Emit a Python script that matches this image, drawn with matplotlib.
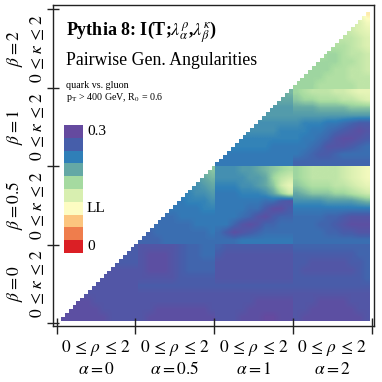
import numpy as np
import matplotlib
matplotlib.use("Agg")
import matplotlib.pyplot as plt
from matplotlib.colors import LinearSegmentedColormap
from matplotlib.transforms import blended_transform_factory
from matplotlib.path import Path
from matplotlib.patches import PathPatch

plt.rcParams['font.family'] = ['Liberation Serif', 'DejaVu Serif']
plt.rcParams['mathtext.fontset'] = 'stix'

# ---------------- data ----------------
alpha_labels = ["0", "0.5", "1", "2"]
beta_labels = ["0", "0.5", "1", "2"]

level_colors = ["#db1f25", "#f07f4d", "#fdc780", "#fdfdc3", "#d8efb0",
                "#a6dba0", "#64a8a5", "#2f80b9", "#465fab", "#654a9f"]
level_values = [0.0, 0.0333, 0.0667, 0.1, 0.1333, 0.1667, 0.2, 0.2333, 0.2667, 0.3]
cbar_text = {0: "0", 3: "LL", 9: "0.3"}

# Mutual information (hundredths), rows: kappa 2 (top) -> 0 (bottom), cols: rho 0 -> 2
blk_a0_b0 = ["27 27 27 27 27 27 27 27 27 27",
             "27 27 27 27 27 27 27 27 27 27",
             "28 28 28 28 28 28 27 27 27 27",
             "28 28 28 28 28 28 28 28 28 28",
             "28 28 28 28 28 28 28 28 28 28",
             "28 28 28 28 28 28 28 28 28 28",
             "28 28 28 28 28 28 28 28 28 28",
             "29 29 29 29 28 28 28 28 28 28",
             "29 29 29 29 29 28 28 28 28 28",
             "29 29 29 29 29 29 28 28 28 28"]
blk_a05_b0 = ["28 28 28 28 28 27 26 26 25 25",
              "28 29 29 29 28 27 26 26 25 25",
              "28 29 29 29 28 27 26 26 26 26",
              "28 29 29 29 28 27 26 26 26 26",
              "28 28 28 28 28 27 27 27 27 27",
              "27 27 27 27 27 27 27 27 27 27",
              "28 28 28 28 28 28 28 28 28 28",
              "28 28 28 28 28 28 28 28 28 28",
              "28 28 29 29 29 29 29 29 29 28",
              "28 29 29 29 29 29 29 29 29 29"]
blk_a1_b0 = ["26 27 27 27 27 27 27 27 27 27",
             "27 28 28 28 28 28 28 28 28 28",
             "28 28 28 28 28 28 28 28 28 28",
             "28 28 28 28 28 28 28 28 28 28",
             "28 28 28 28 28 28 28 28 28 28",
             "27 27 27 27 27 27 27 27 27 27",
             "28 28 28 28 28 28 28 28 28 28",
             "28 28 28 28 28 29 29 29 29 29",
             "28 28 28 28 29 29 29 29 29 29",
             "28 28 28 29 29 29 30 30 29 29"]
blk_a2_b0 = ["26 26 26 26 26 26 26 26 26 26",
             "27 27 27 27 27 27 27 27 26 26",
             "27 27 28 28 28 28 28 27 27 26",
             "27 28 28 28 28 28 28 28 27 26",
             "27 27 27 27 27 27 27 27 27 26",
             "27 27 27 27 27 27 27 27 27 27",
             "28 28 28 28 28 28 28 28 28 28",
             "28 28 28 29 29 29 29 28 28 28",
             "28 28 29 29 29 29 29 29 28 28",
             "28 29 29 29 29 29 29 29 29 28"]
blk_a05_b05 = ["24 24 24 23 23 22 21 20 19 18",
               "24 24 24 23 23 22 22 21 20 19",
               "24 24 24 24 23 23 22 22 21 20",
               "24 24 24 24 24 23 23 22 22 21",
               "25 25 24 24 24 24 23 23 23 22",
               "25 25 25 24 24 24 24 24 23 23",
               "25 25 25 25 25 24 24 24 24 24",
               "25 25 25 25 25 25 25 24 24 24",
               "26 26 25 25 25 25 25 25 25 24",
               "26 26 26 25 25 25 25 25 25 25"]
blk_a1_b05 = ["22 22 22 21 21 20 19 18 17 16",
              "22 22 22 22 21 21 20 17 15 14",
              "23 23 23 22 22 21 20 18 14 12",
              "24 24 24 23 23 23 22 20 17 14",
              "24 24 24 24 24 24 25 25 27 28",
              "24 24 24 24 25 25 27 29 29 27",
              "24 24 24 25 26 28 29 27 26 26",
              "24 24 26 28 29 28 26 26 25 25",
              "25 27 29 28 27 26 25 25 25 25",
              "25 25 25 24 24 24 24 24 24 24"]
blk_a2_b05 = ["17 16 15 15 15 15 14 13 12 11",
              "17 16 15 15 15 15 14 13 12 11",
              "18 17 16 16 16 15 15 14 13 12",
              "20 19 18 18 18 17 17 16 15 14",
              "22 22 22 22 21 21 21 21 20 19",
              "24 24 24 24 24 24 24 24 24 24",
              "25 25 25 25 26 26 27 28 28 28",
              "25 25 25 26 26 27 28 29 29 29",
              "25 25 25 25 26 26 27 27 28 28",
              "25 25 25 25 25 25 25 25 25 25"]
blk_a1_b1 = ["20 20 20 20 20 20 20 20 20 19",
             "20 20 20 20 20 20 20 20 20 20",
             "21 21 21 21 21 21 21 21 21 21",
             "21 21 21 21 21 21 21 21 21 21",
             "22 22 22 22 22 22 22 22 22 22",
             "22 22 22 22 22 22 22 22 23 23",
             "23 23 23 23 23 23 23 23 23 23",
             "23 23 23 23 23 23 23 24 24 24",
             "24 24 24 24 24 24 24 24 24 24",
             "24 24 24 24 24 24 24 24 24 24"]
blk_a2_b1 = ["17 16 15 15 15 14 14 13 12 12",
             "18 17 17 16 16 16 15 15 14 13",
             "20 20 20 19 19 19 19 18 18 18",
             "21 21 21 21 21 21 21 21 21 21",
             "22 23 23 23 24 24 25 26 27 27",
             "23 23 24 24 25 26 27 28 29 28",
             "23 24 24 25 26 28 29 29 28 27",
             "24 24 25 26 28 28 28 27 26 25",
             "24 25 26 27 27 26 25 25 25 25",
             "26 26 26 26 26 26 26 26 26 26"]
blk_a2_b2 = ["15 15 15 15 15 15 14 13 12 9",
             "15 15 15 15 15 15 14 14 13 11",
             "15 15 15 15 15 15 15 14 13 12",
             "16 16 16 16 15 15 15 15 14 13",
             "16 16 16 16 16 16 16 15 14 13",
             "16 16 16 16 17 17 16 15 15 14",
             "17 17 17 17 17 17 16 16 15 14",
             "17 17 17 17 17 16 16 15 15 14",
             "17 17 17 17 16 16 16 15 15 15",
             "17 17 17 16 16 16 16 16 15 15"]

# (alpha index, beta index) -> block
blocks = {(0, 0): blk_a0_b0, (1, 0): blk_a05_b0, (2, 0): blk_a1_b0, (3, 0): blk_a2_b0,
          (1, 1): blk_a05_b05, (2, 1): blk_a1_b05, (3, 1): blk_a2_b05,
          (2, 2): blk_a1_b1, (3, 2): blk_a2_b1,
          (3, 3): blk_a2_b2}

# ---------------- figure ----------------
W = 382.0
fig = plt.figure(figsize=(3.82, 3.82), dpi=100)
ax = fig.add_axes([52.5 / W, (W - 325.5) / W, (374.5 - 52.5) / W, (325.5 - 4.5) / W])

cmap = LinearSegmentedColormap.from_list("mi", list(zip(np.array(level_values) / 0.3, level_colors)))

# heatmap area (data coords) and staircase clip (cells with row <= column on an 80x80 grid)
x0, x1, y0, y1 = 0.055, 3.978, 0.033, 3.962
nfine = 80
dx = (x1 - x0) / nfine
dy = (y1 - y0) / nfine
verts = [(x0, y0), (x1, y0), (x1, y1)]
for i in range(nfine - 1, -1, -1):
    verts.append((x0 + i * dx, y0 + (i + 1) * dy))
    verts.append((x0 + i * dx, y0 + i * dy))
verts.append((x0, y0))
clip = PathPatch(Path(verts, closed=True), transform=ax.transData, facecolor='none', edgecolor='none')
ax.add_patch(clip)

bw = (x1 - x0) / 4
bh = (y1 - y0) / 4
for (ai, bi), rows in blocks.items():
    arr = np.array([[float(v) for v in r.split()] for r in rows]) / 100.0
    im = ax.imshow(arr, origin='upper', cmap=cmap, vmin=0, vmax=0.3,
                   extent=(x0 + ai * bw, x0 + (ai + 1) * bw, y0 + bi * bh, y0 + (bi + 1) * bh),
                   interpolation='bilinear', aspect='auto')
    im.set_clip_path(clip)

xpx_per = 78.75
ypx_per = 78.575
ax.set_xlim((52.5 - 56.7) / xpx_per, 4 + (374.5 - 371.7) / xpx_per)
ax.set_ylim(-(325.5 - 323.3) / ypx_per, 4 + (9 - 4.5) / ypx_per)
ax.set_xticks(range(5))
ax.set_yticks(range(5))
ax.set_xticklabels([])
ax.set_yticklabels([])
ax.tick_params(axis='x', direction='inout', length=11, width=1.0, color='#222222')
ax.tick_params(axis='y', direction='inout', length=9, width=1.0, color='#222222')
for s in ax.spines.values():
    s.set_linewidth(1.0)
    s.set_color('#222222')

# tick labels
tx = blended_transform_factory(ax.transData, fig.transFigure)
for i, a in enumerate(alpha_labels):
    fig.text(i + 0.5, 1 - 352.5 / W, r"$0\,\leq\,\rho\,\leq\,2$", transform=tx,
             ha='center', va='baseline', fontsize=12.5)
    fig.text(i + 0.5, 1 - 373.5 / W, r"$\alpha = %s$" % a, transform=tx,
             ha='center', va='baseline', fontsize=12.5)
ty = blended_transform_factory(fig.transFigure, ax.transData)
for j, b in enumerate(beta_labels):
    fig.text(19 / W, j + 0.5, r"$\beta = %s$" % b, transform=ty, rotation=90,
             rotation_mode='anchor', ha='center', va='baseline', fontsize=12.5)
    fig.text(42.5 / W, j + 0.5, r"$0\,\leq\,\kappa\,\leq\,2$", transform=ty, rotation=90,
             rotation_mode='anchor', ha='center', va='baseline', fontsize=12.5)

# titles
fig.text(66 / W, 1 - 36.5 / W, r"Pythia 8: I(T;$\lambda^{\rho}_{\alpha}$,$\lambda^{\kappa}_{\beta}$)",
         fontsize=13, fontweight='bold', va='baseline')
fig.text(66 / W, 1 - 65 / W, "Pairwise Gen. Angularities", fontsize=12.8, va='baseline')
fig.text(66 / W, 1 - 87.5 / W, "quark vs. gluon", fontsize=7.2, va='baseline')
fig.text(66 / W, 1 - 100.5 / W, r"p$_\mathrm{T}$ > 400 GeV, R$_0$ = 0.6", fontsize=7.2, va='baseline')

# colorbar legend
cax = fig.add_axes([64.3 / W, (W - 253) / W, 19 / W, 128 / W])
cax.imshow(np.array(level_values).reshape(-1, 1), origin='lower', cmap=cmap, vmin=0, vmax=0.3,
           aspect='auto', extent=(0, 1, 0, len(level_values)), interpolation='nearest')
cax.set_axis_off()
for k, lab in cbar_text.items():
    fig.text(87 / W, (W - 253) / W + (k + 0.5) * 12.8 / W, lab, fontsize=11, va='center', ha='left')

fig.savefig("out.png", dpi=100)
